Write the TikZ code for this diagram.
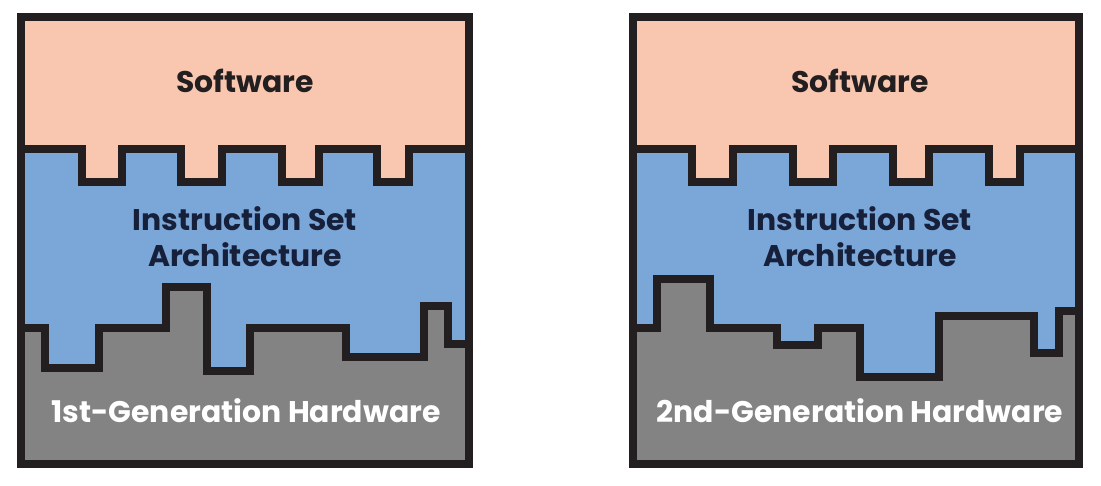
\documentclass[tikz,border=0pt]{standalone}
\usepackage{fontspec}
\setmainfont{Poppins}
\usepackage{tikz}
\definecolor{swpink}{HTML}{F9C7B0}
\definecolor{isablue}{HTML}{7BA6D8}
\definecolor{hwgray}{HTML}{838383}
\definecolor{edgeblack}{HTML}{231F20}
\definecolor{isanavy}{HTML}{16203A}
\tikzset{stepline/.style={draw=edgeblack, line width=0.16cm, line join=miter},
  layertext/.style={font=\fontsize{17}{20.5}\selectfont\bfseries, align=center, inner sep=0pt}}

\begin{document}
\begin{tikzpicture}[x=0.02cm, y=-0.02cm]
\useasboundingbox (0,0) rectangle (1101,485);
% 1st generation
\fill[hwgray] (21,17) rectangle (469,464);
\filldraw[stepline, fill=isablue] (21,17) -- (21,328) -| (45,368) -| (99,328) -| (166,287) -| (207,370.5) -| (250,328) -| (346,357) -| (423.5,306) -| (447.5,344) -- (469,344) -- (469,17) -- cycle;
\filldraw[stepline, fill=swpink] (21,17) -- (21,149) -| (81.5,181.5) -| (121.5,149) -| (181,181.5) -| (221.5,149) -| (282,181.5) -| (319,149) -| (377,181.5) -| (409,149) -- (469,149) -- (469,17) -- cycle;
\draw[stepline] (21,17) rectangle (469,464);
\node[layertext, text=edgeblack] (swA) at (245,81) {Software};
\node[layertext, text=isanavy] (isaA) at (245,237) {Instruction Set\\Architecture};
\node[layertext, text=white] (hwA) at (246,411) {1st-Generation Hardware};
% 2nd generation
\fill[hwgray] (632.5,17) rectangle (1079,464);
\filldraw[stepline, fill=isablue] (632.5,17) -- (632.5,328) -| (657,279) -| (710,328) -| (777,345) -| (817.5,328) -| (860,376.5) -| (939,315.5) -| (1034,353) -| (1059,311) -- (1079,311) -- (1079,17) -- cycle;
\filldraw[stepline, fill=swpink] (632.5,17) -- (632.5,149) -| (692,181.5) -| (732.5,149) -| (792.5,181.5) -| (832.5,149) -| (892.5,181.5) -| (929,149) -| (989,181.5) -| (1020,149) -- (1079,149) -- (1079,17) -- cycle;
\draw[stepline] (632.5,17) rectangle (1079,464);
\node[layertext, text=edgeblack] (swB) at (860,81) {Software};
\node[layertext, text=isanavy] (isaB) at (860,237) {Instruction Set\\Architecture};
\node[layertext, text=white] (hwB) at (860,411) {2nd-Generation Hardware};
\end{tikzpicture}
\end{document}
